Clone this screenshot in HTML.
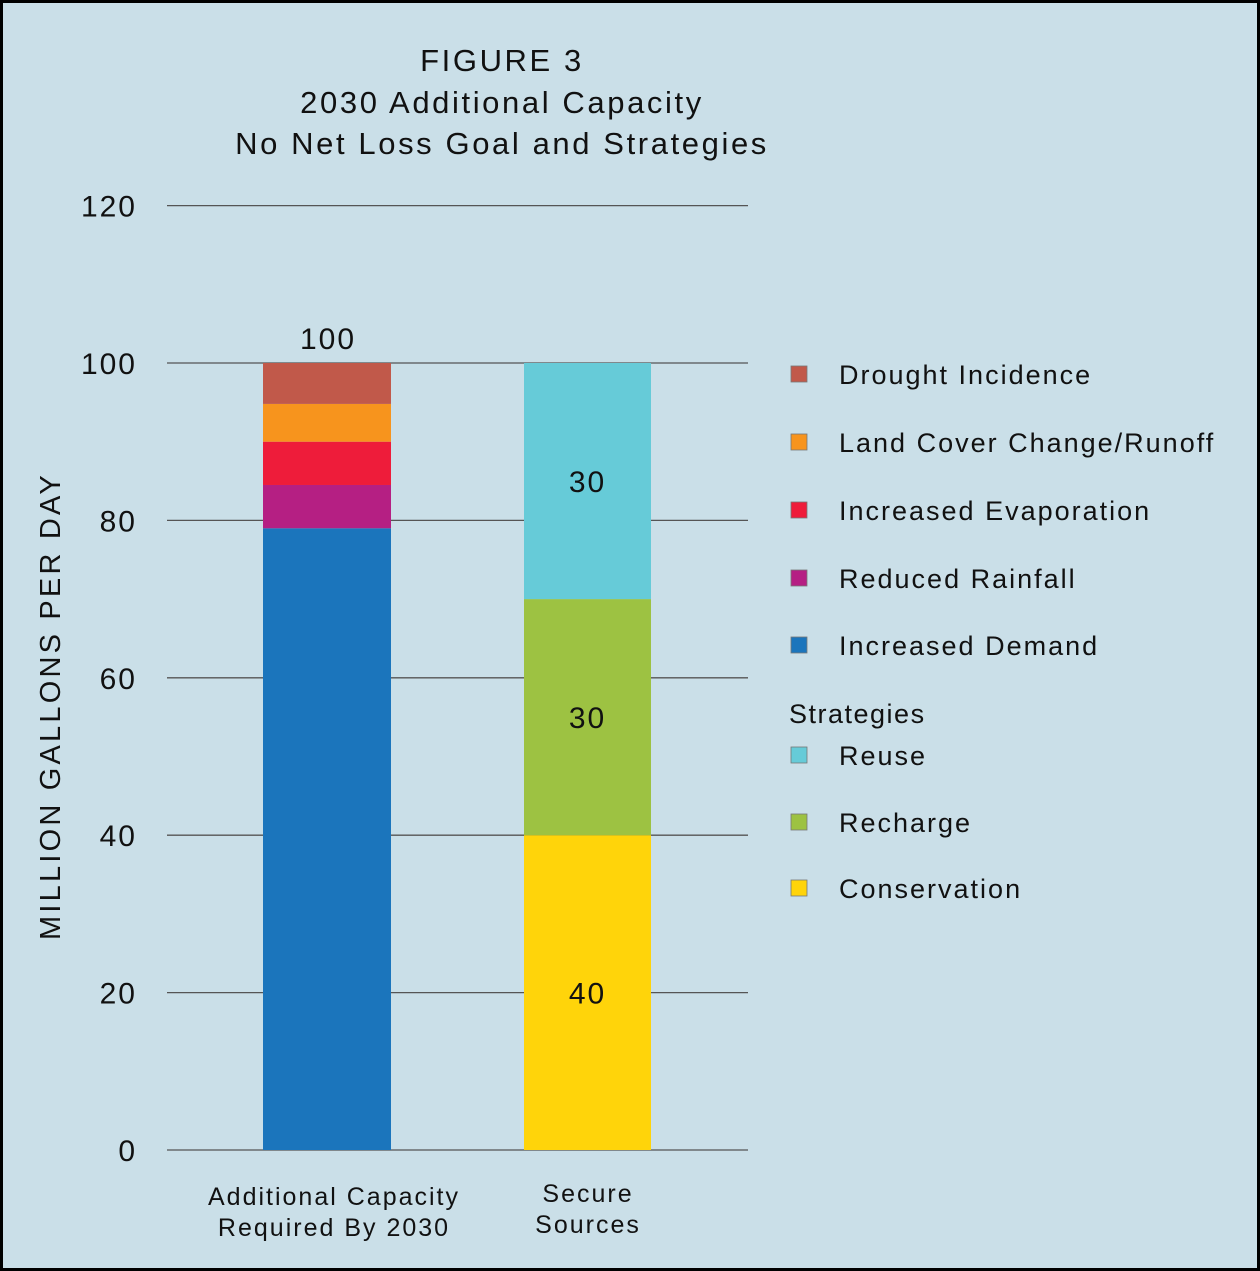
<!DOCTYPE html>
<html><head><meta charset="utf-8"><style>
body{margin:0;background:#fff}
svg{display:block;font-family:"Liberation Sans",sans-serif}
</style></head><body>
<svg width="1260" height="1271" viewBox="0 0 1260 1271" id="c">
<rect x="1.5" y="1.5" width="1257" height="1268" fill="#cadfe8" stroke="#000" stroke-width="3"/>
<g font-size="31" letter-spacing="2.6" text-anchor="middle" fill="#111">
<text x="502" y="71">FIGURE 3</text>
<text x="502" y="113">2030 Additional Capacity</text>
<text x="502" y="154">No Net Loss Goal and Strategies</text>
</g>
<text transform="translate(60,706) rotate(-90)" font-size="29" letter-spacing="3.2" text-anchor="middle" fill="#111">MILLION GALLONS PER DAY</text>
<g id="grid"></g><g id="bars"></g><g id="legend"></g>
</svg>
<script>
const ticks=[0,20,40,60,80,100,120];
const categories=["Additional Capacity|Required By 2030","Secure|Sources"];
const leftNames=["Increased Demand","Reduced Rainfall","Increased Evaporation","Land Cover Change/Runoff","Drought Incidence"];
const leftValues=[79,5.5,5.5,4.8,5.2];
const leftColors=["#1b75bc","#b51f83","#ee1c3a","#f7941d","#c1594a"];
const rightNames=["Conservation","Recharge","Reuse"];
const rightValues=[40,30,30];
const rightColors=["#ffd40a","#9dc242","#66cbd8"];
const NS="http://www.w3.org/2000/svg";
const y=v=>1150-v*7.87;
function mk(p,t,a){const e=document.createElementNS(NS,t);for(const k in a)e.setAttribute(k,a[k]);p.appendChild(e);return e;}
const grid=document.getElementById('grid');
ticks.forEach(t=>{
 const l=mk(grid,'line',{x1:167,x2:748,y1:y(t),y2:y(t),stroke:'#555','stroke-width':1.3});
 
 
 const tx=mk(grid,'text',{x:137,y:y(t)+11,'font-size':30,'letter-spacing':2,'text-anchor':'end',fill:'#111'});
 tx.textContent=t;
 
 
});
const bars=document.getElementById('bars');
function stack(x0,w,vals,cols,names,labels){
 let acc=0;
 vals.forEach((v,i)=>{
  const r=mk(bars,'rect',{x:x0,y:y(acc+v),width:w,height:y(acc)-y(acc+v),fill:cols[i]});
  
  
  if(labels){const t=mk(bars,'text',{x:x0+w/2,y:y(acc+v/2)+11,'font-size':30,'letter-spacing':2,'text-anchor':'middle',fill:'#111'});t.textContent=v;
   
   }
  acc+=v;
 });
 return acc;
}
const tot=stack(263,128,leftValues,leftColors,leftNames,false);
const tl=mk(bars,'text',{x:328,y:y(tot)-14,'font-size':30,'letter-spacing':2,'text-anchor':'middle',fill:'#111'});tl.textContent=Math.round(tot);


stack(524,127,rightValues,rightColors,rightNames,true);
[334,588].forEach((cx,i)=>{
 categories[i].split('|').forEach((s,j)=>{
  const t=mk(bars,'text',{x:cx,y:(i?1202:1205)+j*31,'font-size':25,'letter-spacing':2,'text-anchor':'middle',fill:'#111'});t.textContent=s;
  
  
 });
});
const lg=document.getElementById('legend');
const legItems=[["Drought Incidence","#c1594a",375],["Land Cover Change/Runoff","#f7941d",443],["Increased Evaporation","#ee1c3a",511],["Reduced Rainfall","#b51f83",579],["Increased Demand","#1b75bc",646],["Reuse","#66cbd8",756],["Recharge","#9dc242",823],["Conservation","#ffd40a",889]];
legItems.forEach(it=>{
 const g=mk(lg,'g',{});
 
 
 mk(g,'rect',{x:791,y:it[2]-9,width:16,height:16,fill:it[1],stroke:'#777','stroke-width':0.8});
 const t=mk(g,'text',{x:839,y:it[2]+9,'font-size':27,'letter-spacing':2,fill:'#111'});t.textContent=it[0];
});
const st=mk(lg,'text',{x:789,y:723,'font-size':27,'letter-spacing':1.5,fill:'#111'});st.textContent='Strategies';


</script>
</body></html>
